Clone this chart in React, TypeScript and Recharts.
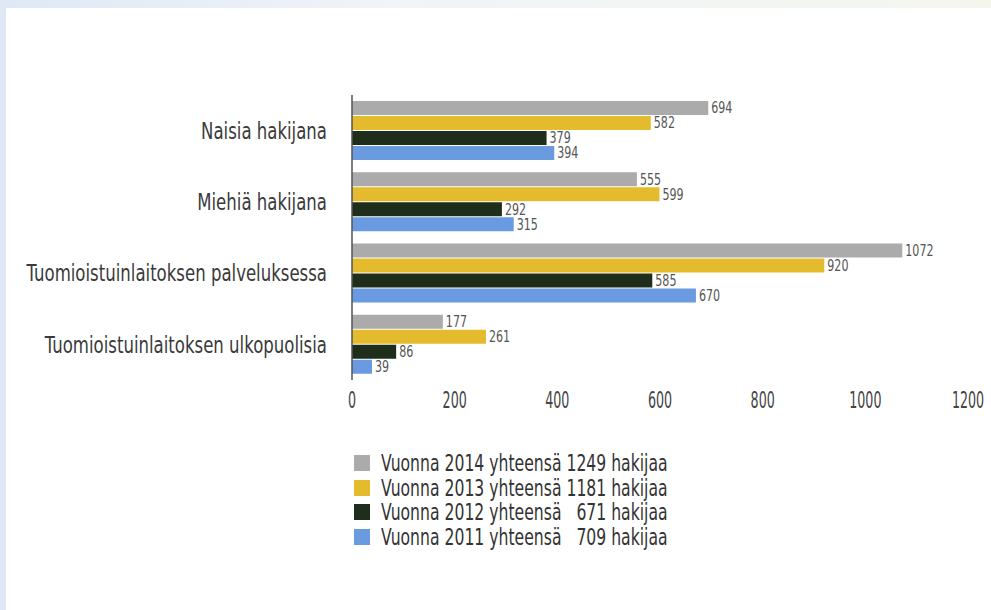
import { Bar, BarChart, LabelList, XAxis, YAxis } from 'recharts';
import type { JSX } from 'react';

const categories = [
  'Naisia hakijana',
  'Miehiä hakijana',
  'Tuomioistuinlaitoksen palveluksessa',
  'Tuomioistuinlaitoksen ulkopuolisia',
];
const values2014 = [694, 555, 1072, 177];
const values2013 = [582, 599, 920, 261];
const values2012 = [379, 292, 585, 86];
const values2011 = [394, 315, 670, 39];
const xTicks = [0, 200, 400, 600, 800, 1000, 1200];

const seriesInfo = [
  { key: 'y2014', color: '#ababab', label: 'Vuonna 2014 yhteensä 1249 hakijaa' },
  { key: 'y2013', color: '#e3bb2c', label: 'Vuonna 2013 yhteensä 1181 hakijaa' },
  { key: 'y2012', color: '#1f2e1a', label: 'Vuonna 2012 yhteensä   671 hakijaa' },
  { key: 'y2011', color: '#6a9be0', label: 'Vuonna 2011 yhteensä   709 hakijaa' },
];

const data = categories.map((name, i) => ({
  name,
  y2014: values2014[i],
  y2013: values2013[i],
  y2012: values2012[i],
  y2011: values2011[i],
}));

// no condensed face installed, so squeeze DejaVu horizontally
const font = '"DejaVu Sans", sans-serif';

interface TickProps {
  x?: number;
  y?: number;
  payload?: { value?: string | number };
}

function CategoryTick({ x = 0, y = 0, payload }: TickProps): JSX.Element {
  return (
    <text
      transform={`translate(${x},${y}) scale(0.72,1)`}
      textAnchor="end"
      dy="0.36em"
      fill="#3a3a3a"
      fontSize={23}
      fontFamily={font}
    >
      {String(payload?.value ?? '')}
    </text>
  );
}

function NumberTick({ x = 0, y = 0, payload }: TickProps): JSX.Element {
  return (
    <text
      transform={`translate(${x},${y}) scale(0.55,1)`}
      textAnchor="middle"
      dy={28}
      fill="#444"
      fontSize={23}
      fontFamily={font}
    >
      {String(payload?.value ?? '')}
    </text>
  );
}

interface ValueLabelProps {
  x?: number | string;
  y?: number | string;
  width?: number | string;
  height?: number | string;
  value?: number | string;
}

function ValueLabel({ x = 0, y = 0, width = 0, height = 0, value }: ValueLabelProps): JSX.Element {
  const lx = Number(x) + Number(width) + 3;
  const ly = Number(y) + Number(height) / 2;
  return (
    <text
      transform={`translate(${lx},${ly}) scale(0.74,1)`}
      dy="0.36em"
      fill="#555"
      fontSize={15}
      fontFamily={font}
    >
      {value}
    </text>
  );
}

function LegendBox(): JSX.Element {
  return (
    <div style={{ fontFamily: font, fontSize: 23, color: '#333' }}>
      {seriesInfo.map((s) => (
        <div key={s.key} style={{ display: 'flex', alignItems: 'center', height: 24.5 }}>
          <span style={{ width: 16, height: 16, background: s.color, marginRight: 11, display: 'inline-block', flex: 'none' }} />
          <span style={{ whiteSpace: 'pre', display: 'inline-block', transform: 'scaleX(0.68)', transformOrigin: 'left center' }}>
            {s.label}
          </span>
        </div>
      ))}
    </div>
  );
}

export default function App(): JSX.Element {
  return (
    <div style={{ position: 'absolute', left: 0, top: 0, width: 991, height: 610, background: 'linear-gradient(90deg, #dfe8f5 0%, #f1f4f8 40%, #f4f6ee 100%)' }}>
      <div style={{ position: 'absolute', left: 6, top: 8, width: 985, height: 602, background: '#fff' }}>
        <BarChart
          width={985}
          height={430}
          data={data}
          layout="vertical"
          barSize={14}
          barGap={1}
          margin={{ top: 87, right: 23, left: 6, bottom: 28 }}
        >
          <XAxis
            type="number"
            domain={[0, 1200]}
            ticks={xTicks}
            axisLine={false}
            tickLine={false}
            tickSize={0}
            tickMargin={0}
            height={30}
            tick={<NumberTick />}
          />
          <YAxis
            type="category"
            dataKey="name"
            width={340}
            axisLine={{ stroke: '#555', strokeWidth: 1.5 }}
            tickLine={false}
            tickSize={0}
            tickMargin={25}
            interval={0}
            tick={<CategoryTick />}
          />
          {seriesInfo.map((s) => (
            <Bar key={s.key} dataKey={s.key} fill={s.color} isAnimationActive={false}>
              <LabelList dataKey={s.key} content={<ValueLabel />} />
            </Bar>
          ))}
        </BarChart>
        <div style={{ position: 'absolute', left: 348, top: 443 }}>
          <LegendBox />
        </div>
      </div>
    </div>
  );
}
